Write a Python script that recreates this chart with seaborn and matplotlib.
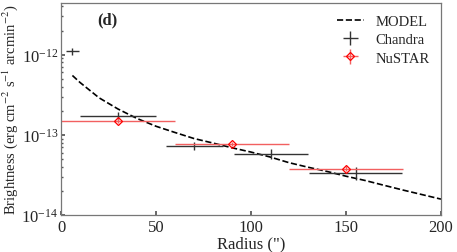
import numpy as np
import pandas as pd
import matplotlib
matplotlib.use("Agg")
import matplotlib.pyplot as plt
import seaborn as sns

# Model curve
model_r = [6, 10, 20, 30, 40, 50, 60, 70, 80, 90, 100, 110, 120, 130, 140, 150, 160, 170, 180, 190, 200]
model_b = [5.5e-13, 4.5e-13, 2.9e-13, 2.1e-13, 1.6e-13, 1.28e-13, 1.07e-13, 9.0e-14, 7.9e-14, 6.9e-14,
           6.1e-14, 5.3e-14, 4.5e-14, 3.95e-14, 3.5e-14, 3.05e-14, 2.7e-14, 2.35e-14, 2.05e-14, 1.8e-14, 1.58e-14]

# Chandra data
chandra_r = [6, 30, 70, 110.5, 155]
chandra_rerr = [3.5, 20, 15, 19.5, 24.5]
chandra_b = [1.1e-12, 1.73e-13, 7.3e-14, 5.8e-14, 3.35e-14]
chandra_berr = [1.0e-13, 2.0e-14, 8e-15, 8e-15, 6e-15]

# NuSTAR data
nustar_r = [30, 90, 150]
nustar_rerr = [30, 30, 30]
nustar_b = [1.5e-13, 7.7e-14, 3.8e-14]
nustar_berr = [1.0e-14, 5e-15, 3e-15]

y_ticks = [1e-14, 1e-13, 1e-12]
x_ticks = [0, 50, 100, 150, 200]

sns.set_theme(style="ticks")
plt.rcParams['font.family'] = ['Liberation Serif', 'DejaVu Serif']
plt.rcParams['mathtext.fontset'] = 'stix'

fig = plt.figure(figsize=(4.57, 2.53), dpi=100)
ax = fig.add_axes([0.1335, 0.146, 0.8315, 0.838])

df_model = pd.DataFrame({"r": model_r, "b": model_b})
sns.lineplot(data=df_model, x="r", y="b", ax=ax, color="black", linestyle="--",
             linewidth=1.2, label="MODEL")

ax.errorbar(chandra_r, chandra_b, xerr=chandra_rerr, yerr=chandra_berr, fmt="none",
            ecolor="#333333", elinewidth=1.0, label="Chandra")
ax.errorbar(nustar_r, nustar_b, xerr=nustar_rerr, yerr=nustar_berr, fmt="D",
            mfc="none", mec="red", color="red", ms=4.5, mew=0.9,
            ecolor="#f26060", elinewidth=1.0, label="NuSTAR")

ax.set_yscale("log")
ax.set_xlim(0, 200)
ax.set_ylim(1e-14, 4.4e-12)
ax.set_xticks(x_ticks)
ax.set_yticks(y_ticks)
ax.set_xlabel('Radius (")', fontsize=12, labelpad=0)
ax.set_ylabel(r'Brightness (erg cm$^{-2}$ s$^{-1}$ arcmin$^{-2}$)', fontsize=10.5, labelpad=1)
ax.tick_params(axis="x", which="major", labelsize=12, pad=3)
ax.tick_params(axis="y", which="major", labelsize=12, pad=2)
ax.tick_params(axis="both", which="major", direction="in", length=3, color="#555555")
ax.tick_params(axis="both", which="minor", direction="in", length=1.5, color="#555555")
for s in ax.spines.values():
    s.set_visible(True)
    s.set_color("#777777")
    s.set_linewidth(0.9)

ax.text(0.121, 0.925, "(d)", transform=ax.transAxes, fontsize=12, fontweight="bold",
        ha="center", va="center")

leg = ax.legend(loc="upper right", frameon=False, fontsize=10.5, handlelength=1.8,
                borderaxespad=0.4, labelspacing=0.35, handletextpad=0.8)

fig.savefig("out.png", dpi=100)
